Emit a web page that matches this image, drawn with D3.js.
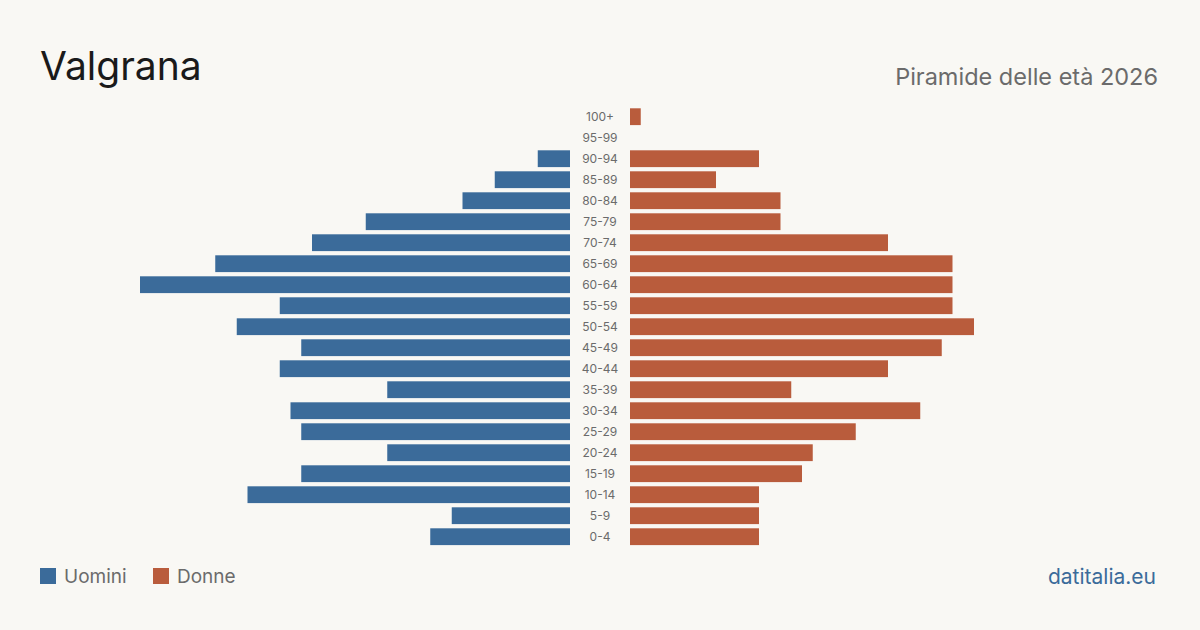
<!DOCTYPE html>
<html>
<head>
<meta charset="utf-8">
<script src="https://cdn.jsdelivr.net/npm/d3@7"></script>
<style>
  body { margin: 0; background: #f9f8f4; }
  svg { display: block; font-family: Inter, "Open Sans", sans-serif; }
</style>
</head>
<body>
<div id="chart"></div>
<script>
var ageGroups = ["100+", "95-99", "90-94", "85-89", "80-84", "75-79", "70-74", "65-69", "60-64",
    "55-59", "50-54", "45-49", "40-44", "35-39", "30-34", "25-29", "20-24", "15-19", "10-14", "5-9", "0-4"];
var men = [0, 0, 3, 7, 10, 19, 24, 33, 40, 27, 31, 25, 27, 17, 26, 25, 17, 25, 30, 11, 13];
var women = [1, 0, 12, 8, 14, 14, 24, 30, 30, 30, 32, 29, 24, 15, 27, 21, 17, 16, 12, 12, 12];

var width = 1200, height = 630;
var blue = "#3b6b9a", orange = "#b95c3c";

var svg = d3.select("#chart")
    .append("svg")
    .attr("width", width)
    .attr("height", height);

svg.append("rect")
    .attr("width", width)
    .attr("height", height)
    .attr("fill", "#f9f8f4");

var yScale = d3.scaleBand()
    .domain(ageGroups)
    .range([106.2, 547.2])
    .paddingInner(0.2)
    .paddingOuter(0.1);

// same scale on both sides, mirrored
var xLen = d3.scaleLinear()
    .domain([0, 40])
    .range([0, 430]);

var leftEdge = 570, rightEdge = 630;

svg.selectAll(".men")
    .data(ageGroups)
    .enter().append("rect")
    .attr("x", (d, i) => leftEdge - xLen(men[i]))
    .attr("y", d => yScale(d))
    .attr("width", (d, i) => xLen(men[i]))
    .attr("height", yScale.bandwidth())
    .attr("fill", blue);

svg.selectAll(".women")
    .data(ageGroups)
    .enter().append("rect")
    .attr("x", rightEdge)
    .attr("y", d => yScale(d))
    .attr("width", (d, i) => xLen(women[i]))
    .attr("height", yScale.bandwidth())
    .attr("fill", orange);

svg.selectAll(".age")
    .data(ageGroups)
    .enter().append("text")
    .attr("x", 600)
    .attr("y", d => yScale(d) + yScale.bandwidth() / 2)
    .attr("dy", "0.35em")
    .attr("text-anchor", "middle")
    .attr("font-size", 12)
    .attr("fill", "#6b6b6b")
    .text(d => d);

svg.append("text")
    .attr("x", 40)
    .attr("y", 80)
    .attr("font-size", 39)
    .attr("fill", "#1a1a1a")
    .text("Valgrana");

svg.append("text")
    .attr("x", 1158)
    .attr("y", 85)
    .attr("text-anchor", "end")
    .attr("font-size", 23.5)
    .attr("fill", "#6b6b6b")
    .text("Piramide delle età 2026");

// legend
var legend = [{label: "Uomini", color: blue, x: 40}, {label: "Donne", color: orange, x: 153}];
legend.forEach(function(l) {
    svg.append("rect")
        .attr("x", l.x)
        .attr("y", 568)
        .attr("width", 16)
        .attr("height", 16)
        .attr("fill", l.color);
    svg.append("text")
        .attr("x", l.x + 24)
        .attr("y", 583)
        .attr("font-size", 19)
        .attr("fill", "#6b6b6b")
        .text(l.label);
});

svg.append("text")
    .attr("x", 1156)
    .attr("y", 584)
    .attr("text-anchor", "end")
    .attr("font-size", 21)
    .attr("fill", blue)
    .text("datitalia.eu");
</script>
</body>
</html>
